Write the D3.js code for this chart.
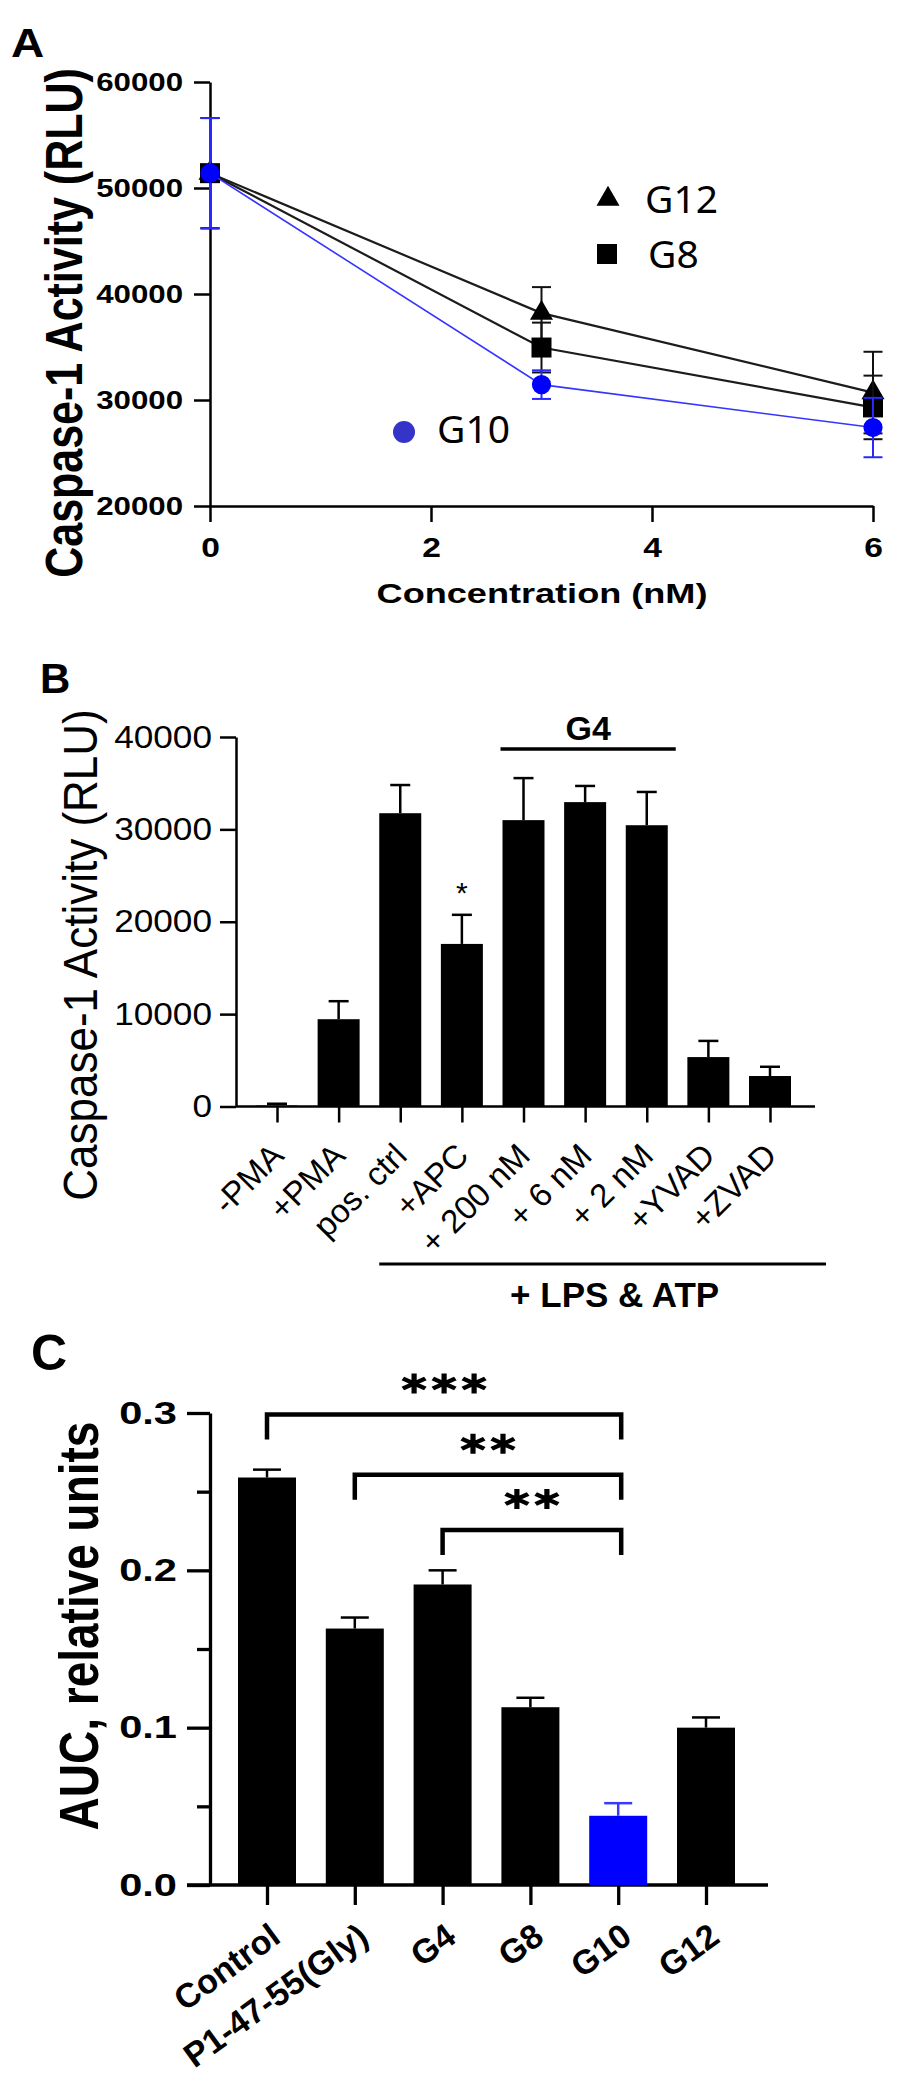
<!DOCTYPE html>
<html>
<head>
<meta charset="utf-8">
<script src="https://cdn.jsdelivr.net/npm/d3@7"></script>
<style>
body { margin: 0; background: #fff; }
svg { display: block; }
</style>
</head>
<body>
<div id="container"></div>
<script>
// ---- panel A: caspase-1 activity vs concentration
const concA = [0, 3, 6];
const g12 = [51400, 38200, 30700];
const g12Err = [5200, 2450, 3850];
const g8 = [51400, 34950, 29300];
const g8Err = [5200, 2350, 3000];
const g10 = [51400, 31450, 27400];
const g10Err = [5200, 1350, 2800];
const ticksAy = [20000, 30000, 40000, 50000, 60000];
const ticksAx = [0, 2, 4, 6];

// ---- panel B: bars
const catsB = ['-PMA', '+PMA', 'pos. ctrl', '+APC', '+ 200 nM', '+ 6 nM', '+ 2 nM', '+YVAD', '+ZVAD'];
const valsB = [100, 9450, 31750, 17600, 31000, 32950, 30450, 5350, 3300];
const errB = [200, 1950, 3050, 3150, 4550, 1750, 3600, 1750, 1000];
const ticksB = [0, 10000, 20000, 30000, 40000];
const g4Cats = ['+ 200 nM', '+ 2 nM'];
const lpsCats = ['pos. ctrl', '+ZVAD'];
const starB = '+APC';

// ---- panel C: AUC
const catsC = ['Control', 'P1-47-55(Gly)', 'G4', 'G8', 'G10', 'G12'];
const valsC = [0.259, 0.163, 0.191, 0.113, 0.044, 0.100];
const errC = [0.005, 0.007, 0.009, 0.006, 0.008, 0.0065];
const ticksC = [0, 0.1, 0.2, 0.3];
const minorC = [0.05, 0.15, 0.25];
const bracketsC = [
    { from: 'Control', to: 'G10', stars: 3, level: 0.299 },
    { from: 'P1-47-55(Gly)', to: 'G10', stars: 2, level: 0.2607 },
    { from: 'G4', to: 'G10', stars: 2, level: 0.2257 }
];

const FONT = '"Liberation Sans", Arial, sans-serif';
const BLUE = '#0000ff';

const svg = d3.select('#container').append('svg')
    .attr('width', 913)
    .attr('height', 2100);

function styleAxis(g, width, size, weight, sx) {
    g.selectAll('path, line').attr('stroke', '#000').attr('stroke-width', width);
    g.selectAll('text')
        .attr('fill', '#000')
        .style('font-family', FONT)
        .style('font-size', size + 'px')
        .style('font-weight', weight);
    if (sx) {
        g.selectAll('.tick text').each(function () {
            const t = d3.select(this);
            t.attr('x', (+t.attr('x') || 0) / sx).attr('transform', `scale(${sx},1)`);
        });
    }
}

function addText(parent, str, x, y, o) {
    return parent.append('text')
        .attr('transform', `translate(${x},${y}) scale(${o.sx || 1},1) rotate(${o.rot || 0})`)
        .attr('text-anchor', o.anchor || 'start')
        .style('font-family', o.font || FONT)
        .style('font-size', o.size + 'px')
        .style('font-weight', o.weight || 'normal')
        .attr('fill', o.fill || '#000')
        .text(str);
}

// ================= A =================
const xA = d3.scaleLinear().domain([0, 6]).range([210, 873]);
const yA = d3.scaleLinear().domain([20000, 60000]).range([506, 82]);

addText(svg, 'A', 11, 57, { size: 40, sx: 1.15, weight: 'bold' });

const axAy = svg.append('g').attr('transform', 'translate(210,0)')
    .call(d3.axisLeft(yA).tickValues(ticksAy).tickSize(16).tickSizeOuter(0).tickPadding(11).tickFormat(d3.format('d')));
styleAxis(axAy, 2.5, 25, 'bold', 1.25);

const axAx = svg.append('g').attr('transform', 'translate(0,506)')
    .call(d3.axisBottom(xA).tickValues(ticksAx).tickSize(16).tickSizeOuter(0).tickPadding(15).tickFormat(d3.format('d')));
styleAxis(axAx, 2.5, 28, 'bold', 1.2);

addText(svg, 'Caspase-1 Activity (RLU)', 82, 323, { size: 43, weight: 'bold', sx: 1.2, rot: -90, anchor: 'middle' });
addText(svg, 'Concentration (nM)', 542, 603, { size: 28, weight: 'bold', sx: 1.29, anchor: 'middle' });

const seriesA = [
    { name: 'G12', vals: g12, err: g12Err, stroke: '#1c1c1c', fill: '#000', lw: 2.2, symbol: d3.symbolTriangle, size: 230 },
    { name: 'G8', vals: g8, err: g8Err, stroke: '#1c1c1c', fill: '#000', lw: 2.2, symbol: d3.symbolSquare, size: 400 },
    { name: 'G10', vals: g10, err: g10Err, stroke: '#3535ff', fill: BLUE, lw: 1.6, symbol: d3.symbolCircle, size: 290 }
];

seriesA.forEach(s => {
    const pts = concA.map((c, i) => ({ c, v: s.vals[i], e: s.err[i] }));
    svg.append('path')
        .datum(pts)
        .attr('fill', 'none')
        .attr('stroke', s.stroke)
        .attr('stroke-width', s.lw)
        .attr('d', d3.line().x(d => xA(d.c)).y(d => yA(d.v)));

    const eb = svg.append('g').attr('stroke', s.fill === BLUE ? '#2828ff' : '#111').attr('stroke-width', 2);
    pts.forEach(d => {
        const x = xA(d.c);
        eb.append('line').attr('x1', x).attr('x2', x).attr('y1', yA(d.v - d.e)).attr('y2', yA(d.v + d.e));
        eb.append('line').attr('x1', x - 9.5).attr('x2', x + 9.5).attr('y1', yA(d.v + d.e)).attr('y2', yA(d.v + d.e));
        eb.append('line').attr('x1', x - 9.5).attr('x2', x + 9.5).attr('y1', yA(d.v - d.e)).attr('y2', yA(d.v - d.e));
    });

    svg.append('g').selectAll('path')
        .data(pts)
        .join('path')
        .attr('transform', d => `translate(${xA(d.c)},${yA(d.v)})`)
        .attr('d', d3.symbol(s.symbol, s.size))
        .attr('fill', s.fill);
});

// legend
svg.append('path').attr('transform', 'translate(608,199)').attr('d', d3.symbol(d3.symbolTriangle, 230)).attr('fill', '#000');
addText(svg, 'G12', 645, 213, { size: 39, font: '"Noto Sans", sans-serif' });
svg.append('path').attr('transform', 'translate(607,254)').attr('d', d3.symbol(d3.symbolSquare, 400)).attr('fill', '#000');
addText(svg, 'G8', 648, 268, { size: 39, font: '"Noto Sans", sans-serif' });
svg.append('circle').attr('cx', 404).attr('cy', 432).attr('r', 11).attr('fill', '#3434c8');
addText(svg, 'G10', 437, 443, { size: 39, font: '"Noto Sans", sans-serif' });

// ================= B =================
const xB = d3.scalePoint().domain(catsB).range([277, 770]);
const yB = d3.scaleLinear().domain([0, 40000]).range([1106.5, 737]);
const barWB = 42;

addText(svg, 'B', 40, 693, { size: 42, weight: 'bold' });

const axBy = svg.append('g').attr('transform', 'translate(236,0)')
    .call(d3.axisLeft(yB).tickValues(ticksB).tickSize(16).tickSizeOuter(0).tickPadding(8).tickFormat(d3.format('d')));
styleAxis(axBy, 2.5, 32, 'normal', 1.1);

svg.append('line')
    .attr('x1', 236).attr('x2', 815)
    .attr('y1', yB(0)).attr('y2', yB(0))
    .attr('stroke', '#000').attr('stroke-width', 2.5);

svg.append('g').selectAll('rect')
    .data(catsB)
    .join('rect')
    .attr('x', d => xB(d) - barWB / 2)
    .attr('width', barWB)
    .attr('y', (d, i) => yB(valsB[i]))
    .attr('height', (d, i) => yB(0) - yB(valsB[i]))
    .attr('fill', '#000');

const ebB = svg.append('g').attr('stroke', '#000').attr('stroke-width', 2.5);
catsB.forEach((c, i) => {
    const x = xB(c);
    const top = yB(valsB[i] + errB[i]);
    ebB.append('line').attr('x1', x).attr('x2', x).attr('y1', yB(valsB[i])).attr('y2', top);
    ebB.append('line').attr('x1', x - 10).attr('x2', x + 10).attr('y1', top).attr('y2', top);
});

const axBx = svg.append('g').attr('transform', `translate(0,${yB(0)})`)
    .call(d3.axisBottom(xB).tickSize(16).tickSizeOuter(0));
axBx.select('.domain').remove();
styleAxis(axBx, 2.5, 33, 'normal');
axBx.selectAll('.tick text')
    .attr('x', null).attr('y', null).attr('dy', null)
    .attr('text-anchor', 'end')
    .attr('transform', 'translate(8,51) rotate(-45)');

addText(svg, 'Caspase-1 Activity (RLU)', 97, 955, { size: 44, sx: 1.1, rot: -90, anchor: 'middle' });

// star over +APC
const iStar = catsB.indexOf(starB);
addText(svg, '*', xB(starB), yB(valsB[iStar] + errB[iStar]) - 12, { size: 30, anchor: 'middle' });

// G4 bar
const g4x1 = xB(g4Cats[0]) - 23, g4x2 = xB(g4Cats[1]) + 29;
svg.append('line').attr('x1', g4x1).attr('x2', g4x2).attr('y1', 749).attr('y2', 749)
    .attr('stroke', '#000').attr('stroke-width', 3.5);
addText(svg, 'G4', (g4x1 + g4x2) / 2, 740, { size: 34, weight: 'bold', anchor: 'middle' });

// + LPS & ATP
const lx1 = xB(lpsCats[0]) - 21, lx2 = xB(lpsCats[1]) + 56;
svg.append('line').attr('x1', lx1).attr('x2', lx2).attr('y1', 1264).attr('y2', 1264)
    .attr('stroke', '#000').attr('stroke-width', 3);
addText(svg, '+ LPS & ATP', (lx1 + lx2) / 2 + 12, 1307, { size: 35, weight: 'bold', anchor: 'middle' });

// ================= C =================
const xC = d3.scalePoint().domain(catsC).range([267, 706]);
const yC = d3.scaleLinear().domain([0, 0.3]).range([1885, 1413]);
const barWC = 58;

addText(svg, 'C', 31, 1370, { size: 50, weight: 'bold' });

const axCy = svg.append('g').attr('transform', 'translate(210,0)')
    .call(d3.axisLeft(yC).tickValues(ticksC).tickSize(23).tickSizeOuter(0).tickPadding(10).tickFormat(d3.format('.1f')));
styleAxis(axCy, 3.3, 32, 'bold', 1.3);
const axCm = svg.append('g').attr('transform', 'translate(210,0)')
    .call(d3.axisLeft(yC).tickValues(minorC).tickSize(13).tickFormat(''));
axCm.select('.domain').remove();
styleAxis(axCm, 3.3, 10, 'normal');

svg.append('line')
    .attr('x1', 187).attr('x2', 768)
    .attr('y1', yC(0)).attr('y2', yC(0))
    .attr('stroke', '#000').attr('stroke-width', 3.3);

svg.append('g').selectAll('rect')
    .data(catsC)
    .join('rect')
    .attr('x', d => xC(d) - barWC / 2)
    .attr('width', barWC)
    .attr('y', (d, i) => yC(valsC[i]))
    .attr('height', (d, i) => yC(0) - yC(valsC[i]))
    .attr('fill', d => d === 'G10' ? BLUE : '#000');

catsC.forEach((c, i) => {
    const x = xC(c);
    const top = yC(valsC[i] + errC[i]);
    const col = c === 'G10' ? '#3a3aff' : '#000';
    svg.append('line').attr('x1', x).attr('x2', x).attr('y1', yC(valsC[i])).attr('y2', top)
        .attr('stroke', col).attr('stroke-width', 2.5);
    svg.append('line').attr('x1', x - 14).attr('x2', x + 14).attr('y1', top).attr('y2', top)
        .attr('stroke', col).attr('stroke-width', 2.5);
});

const axCx = svg.append('g').attr('transform', `translate(0,${yC(0)})`)
    .call(d3.axisBottom(xC).tickSize(20).tickSizeOuter(0));
axCx.select('.domain').remove();
styleAxis(axCx, 3.3, 34, 'bold');
axCx.selectAll('.tick text')
    .attr('x', null).attr('y', null).attr('dy', null)
    .attr('text-anchor', 'end')
    .attr('transform', 'translate(15,56) rotate(-36)');

addText(svg, 'AUC, relative units', 98, 1626, { size: 46, weight: 'bold', sx: 1.2, rot: -90, anchor: 'middle' });

// significance brackets
bracketsC.forEach(b => {
    const x1 = xC(b.from), x2 = xC(b.to) + 3, y = yC(b.level);
    svg.append('path')
        .attr('d', `M${x1},${y + 25}V${y}H${x2}V${y + 25}`)
        .attr('fill', 'none')
        .attr('stroke', '#000')
        .attr('stroke-width', 4.5);
    const mid = (x1 + x2) / 2;
    d3.range(b.stars).forEach(k => {
        const cx = mid + (k - (b.stars - 1) / 2) * 30;
        svg.append('path')
            .attr('transform', `translate(${cx},${y - 31}) scale(1.3,1)`)
            .attr('d', d3.symbol(d3.symbolAsterisk, 282))
            .attr('fill', 'none')
            .attr('stroke', '#000')
            .attr('stroke-width', 4);
    });
});
</script>
</body>
</html>
